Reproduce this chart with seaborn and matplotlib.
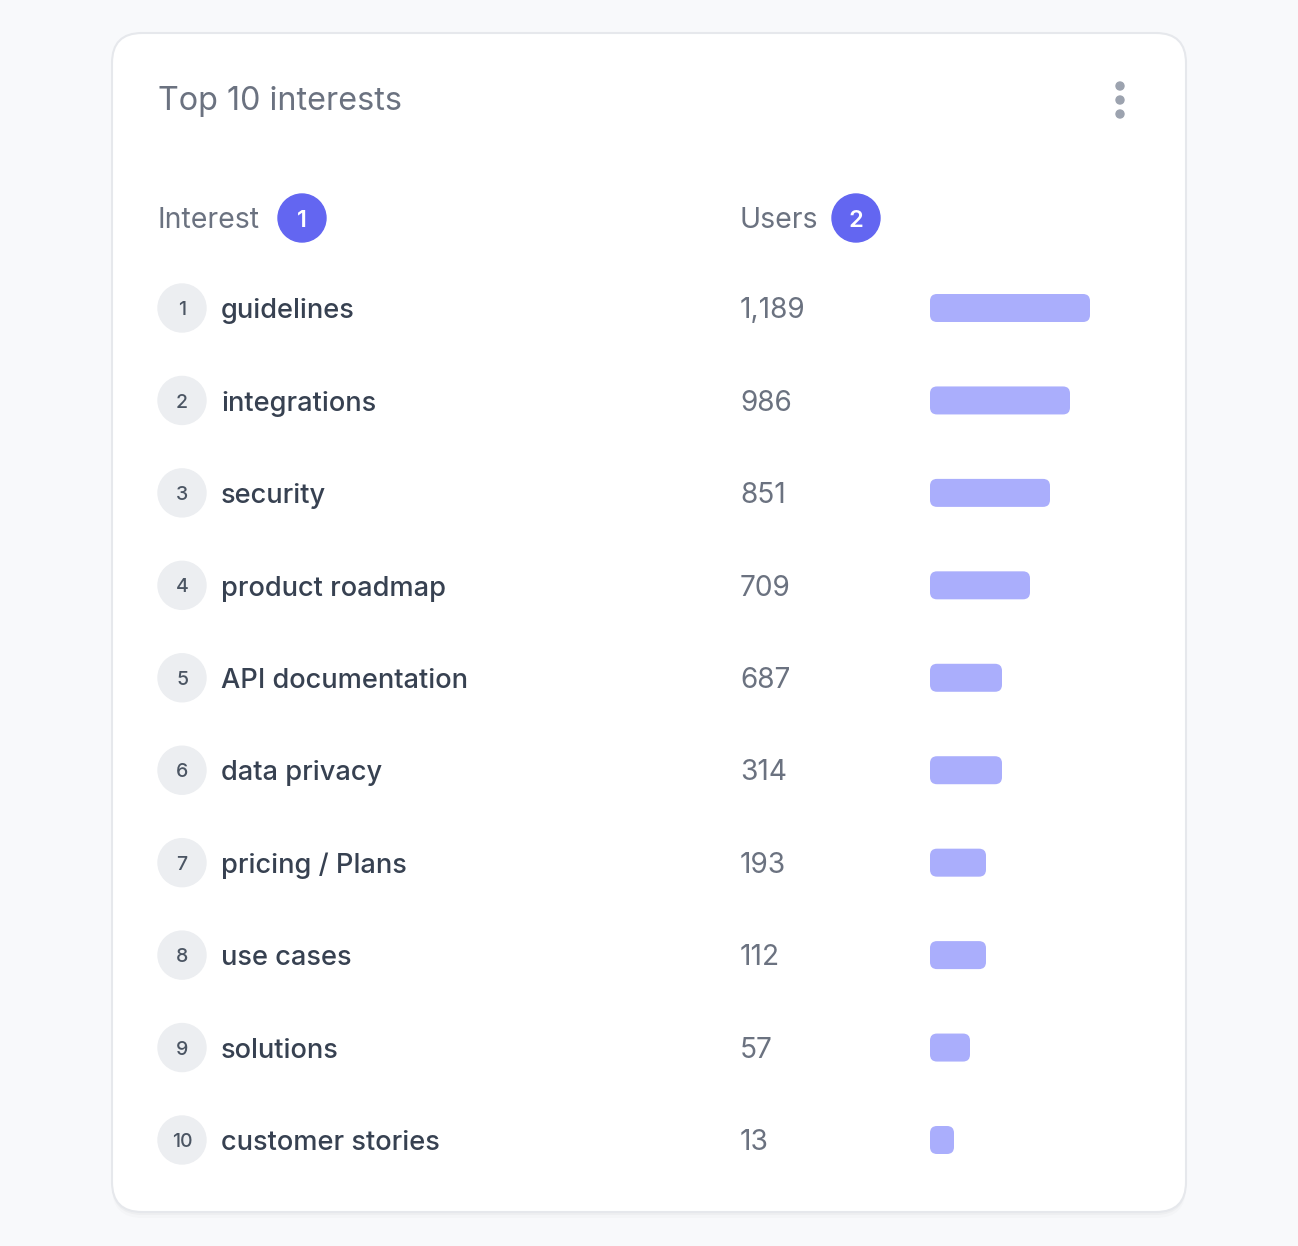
import numpy as np
import pandas as pd
import seaborn as sns
import matplotlib
matplotlib.use("Agg")
import matplotlib.pyplot as plt
from matplotlib.patches import FancyBboxPatch, Circle

# ---------------- data ----------------
title = "Top 10 interests"
col_headers = ["Interest", "Users"]
header_badges = ["1", "2"]
ranks = ["1", "2", "3", "4", "5", "6", "7", "8", "9", "10"]
interests = ["guidelines", "integrations", "security", "product roadmap",
             "API documentation", "data privacy", "pricing / Plans",
             "use cases", "solutions", "customer stories"]
users = [1189, 986, 851, 709, 687, 314, 193, 112, 57, 13]
# bar lengths as drawn in the chart (percent of the bar track)
bar_pct = [80, 70, 60, 50, 36, 36, 28, 28, 20, 12]

# ---------------- style ----------------
W, H = 1298, 1246
sns.set_theme(style="white")
plt.rcParams["font.family"] = ["Inter", "DejaVu Sans"]

PAGE_BG = "#f8f9fb"
CARD_EDGE = "#e6e8ec"
BAR_COLOR = "#aaaefc"
BADGE_COLOR = "#6366f1"
RANK_BG = "#eceef1"
TITLE_C = "#6b7280"
LABEL_C = "#374151"
VALUE_C = "#6b7280"
DOT_C = "#9ca3af"

fig = plt.figure(figsize=(W / 100, H / 100), dpi=100, facecolor=PAGE_BG)
bg = fig.add_axes([0, 0, 1, 1])
bg.set_xlim(0, W)
bg.set_ylim(H, 0)
bg.axis("off")

# card with subtle shadow
for off, a in [(6, 0.015), (3, 0.025)]:
    bg.add_patch(FancyBboxPatch((112, 33 + off), 1074, 1179,
                                boxstyle="round,pad=0,rounding_size=30",
                                fc="black", ec="none", alpha=a, zorder=1))
bg.add_patch(FancyBboxPatch((112, 33), 1074, 1179,
                            boxstyle="round,pad=0,rounding_size=30",
                            fc="white", ec=CARD_EDGE, lw=1.5, zorder=2))

def pt2px(pt):
    return pt * 100 / 72

CAP = 0.727

# title
TS = 23.3
bg.text(158, 110, title, fontsize=TS, color=TITLE_C, va="baseline", ha="left", zorder=5)

# menu dots
for yy in (86, 100, 114):
    bg.add_patch(Circle((1120, yy), 4, color=DOT_C, zorder=5))

# headers with badges
HS = 20.5
hy = 218
for hx, txt, bx, b in [(158, col_headers[0], 302, header_badges[0]),
                       (740, col_headers[1], 856, header_badges[1])]:
    bg.text(hx, hy + CAP * pt2px(HS) / 2, txt, fontsize=HS, color=TITLE_C,
            va="baseline", ha="left", zorder=5)
    bg.add_patch(Circle((bx, hy), 24, color=BADGE_COLOR, zorder=5))
    bs = 17
    bg.text(bx, hy + CAP * pt2px(bs) / 2, b, fontsize=bs, color="white",
            fontweight="semibold", va="baseline", ha="center", zorder=6)

# ---------------- bars via seaborn ----------------
y0, y1 = 308, 1140
step = (y1 - y0) / (len(interests) - 1)
T = y0 - 0.5 * step
B = y1 + 0.5 * step
bx0, bw = 930, 200
bax = fig.add_axes([bx0 / W, 1 - B / H, bw / W, (B - T) / H])
bax.patch.set_alpha(0)
df = pd.DataFrame({"interest": interests, "pct": bar_pct, "users": users})
sns.barplot(data=df, y="interest", x="pct", orient="h", color=BAR_COLOR,
            saturation=1, width=28 / step, ax=bax)
bax.set_xlim(0, 100)
bax.set_ylim(len(interests) - 0.5, -0.5)
bax.axis("off")

to_bg = bax.transData + bg.transData.inverted()
for p in bax.patches:
    bb = p.get_bbox()
    (xa, ya), (xb, yb) = to_bg.transform([(bb.x0, bb.y0), (bb.x1, bb.y1)])
    x_l, x_r = min(xa, xb), max(xa, xb)
    y_t, y_b = min(ya, yb), max(ya, yb)
    bg.add_patch(FancyBboxPatch((x_l, y_t), x_r - x_l, y_b - y_t,
                                boxstyle="round,pad=0,rounding_size=7",
                                fc=BAR_COLOR, ec="none", zorder=5))
    p.set_visible(False)

row_y = [to_bg.transform((0, i))[1] for i in range(len(interests))]

# ---------------- rows ----------------
RS = 14
LS = 19.6
VS = 20.2
for i, y in enumerate(row_y):
    bg.add_patch(Circle((182, y), 24, color=RANK_BG, zorder=5))
    bg.text(182, y + CAP * pt2px(RS) / 2, ranks[i], fontsize=RS, color="#4b5563",
            fontweight="medium", ha="center", va="baseline", zorder=6)
    bg.text(221, y + CAP * pt2px(20.2) / 2, interests[i], fontsize=LS, color=LABEL_C,
            fontweight="medium", ha="left", va="baseline", zorder=6)
    bg.text(740, y + CAP * pt2px(VS) / 2, f"{users[i]:,}", fontsize=VS, color=VALUE_C,
            ha="left", va="baseline", zorder=6)

fig.savefig("out.png", dpi=100, facecolor=PAGE_BG)
